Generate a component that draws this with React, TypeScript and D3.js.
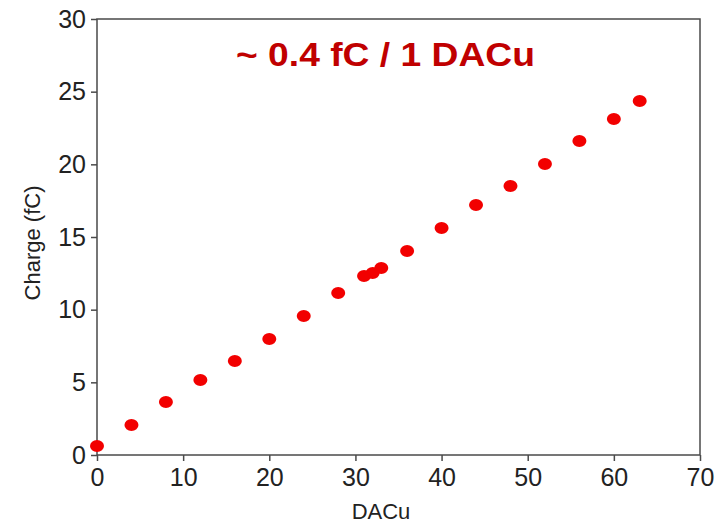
import React, { useEffect, useRef } from "react";
import * as d3 from "d3";

// DAC units and measured charge (fC)
const dacu = [0, 4, 8, 12, 16, 20, 24, 28, 31, 32, 33, 36, 40, 44, 48, 52, 56, 60, 63];
const charge = [
  0.62, 2.06, 3.65, 5.16, 6.47, 7.98, 9.57, 11.15, 12.32, 12.53, 12.87, 14.04, 15.62, 17.2,
  18.51, 20.03, 21.61, 23.12, 24.36,
];
const xTicks = [0, 10, 20, 30, 40, 50, 60, 70];
const yTicks = [0, 5, 10, 15, 20, 25, 30];
const title = "~ 0.4 fC / 1 DACu";

const W = 716;
const H = 523;

const App = () => {
  const ref = useRef<SVGSVGElement | null>(null);

  useEffect(() => {
    const svg = d3.select(ref.current);
    svg.selectAll("*").remove();

    const left = 97;
    const right = 700;
    const top = 19;
    const bottom = 455;
    const axisColor = "#4a4a4a";
    const font = "'Liberation Sans', Arial, sans-serif";

    const x = d3.scaleLinear().domain([0, 70]).range([left, right]);
    const y = d3.scaleLinear().domain([0, 30]).range([bottom, top]);

    // frame
    svg
      .append("rect")
      .attr("x", left)
      .attr("y", top)
      .attr("width", right - left)
      .attr("height", bottom - top)
      .attr("fill", "none")
      .attr("stroke", axisColor)
      .attr("stroke-width", 1.5);

    // x axis
    const gx = svg
      .append("g")
      .attr("transform", `translate(0,${bottom})`)
      .call(d3.axisBottom(x).tickValues(xTicks).tickSize(6).tickPadding(7));
    gx.select(".domain").remove();
    gx.selectAll("line").attr("stroke", axisColor).attr("stroke-width", 1.5);
    gx.selectAll("text")
      .attr("fill", "#222")
      .style("font-family", font)
      .style("font-size", "25px");

    // y axis
    const gy = svg
      .append("g")
      .attr("transform", `translate(${left},0)`)
      .call(d3.axisLeft(y).tickValues(yTicks).tickSize(6).tickPadding(5));
    gy.select(".domain").remove();
    gy.selectAll("line").attr("stroke", axisColor).attr("stroke-width", 1.5);
    gy.selectAll("text")
      .attr("fill", "#222")
      .style("font-family", font)
      .style("font-size", "25px");

    // axis titles
    svg
      .append("text")
      .attr("x", 381)
      .attr("y", 519)
      .attr("text-anchor", "middle")
      .attr("fill", "#222")
      .style("font-family", font)
      .style("font-size", "22px")
      .text("DACu");

    svg
      .append("text")
      .attr("transform", `translate(40,${243}) rotate(-90)`)
      .attr("text-anchor", "middle")
      .attr("fill", "#222")
      .style("font-family", font)
      .style("font-size", "22px")
      .text("Charge (fC)");

    // annotation
    svg
      .append("text")
      .attr("x", 236)
      .attr("y", 66)
      .attr("textLength", 299)
      .attr("lengthAdjust", "spacingAndGlyphs")
      .attr("fill", "#c00000")
      .style("font-family", font)
      .style("font-weight", "bold")
      .style("font-size", "33px")
      .text(title);

    // points
    svg
      .append("g")
      .selectAll("ellipse")
      .data(dacu.map((d, i) => [d, charge[i]]))
      .enter()
      .append("ellipse")
      .attr("cx", (d) => x(d[0]))
      .attr("cy", (d) => y(d[1]))
      .attr("rx", 7)
      .attr("ry", 6)
      .attr("fill", "#f20000");
  }, []);

  return (
    <svg
      ref={ref}
      width={W}
      height={H}
      style={{ position: "absolute", left: 0, top: 0, background: "#fff" }}
    />
  );
};

export default App;
